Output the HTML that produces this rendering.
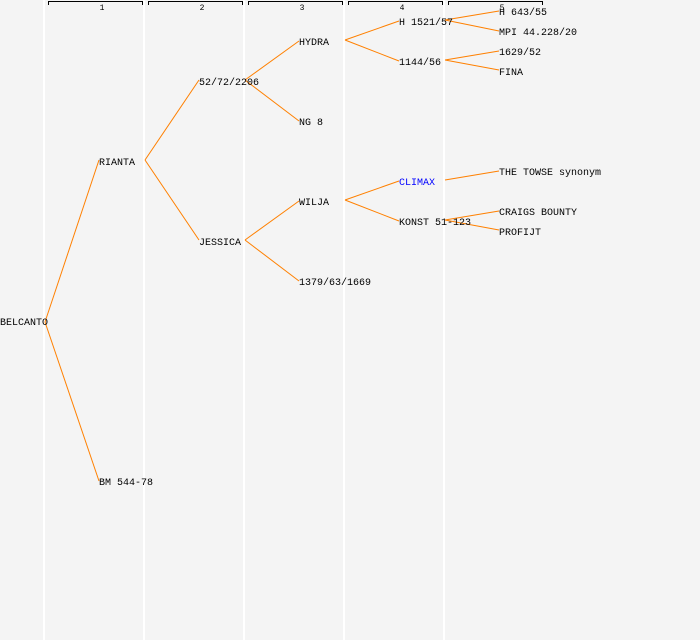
<!DOCTYPE html>
<html><head><style>html,body{margin:0;padding:0;background:#f4f4f4}svg{display:block}</style></head><body>
<svg width="700" height="640" xmlns="http://www.w3.org/2000/svg" font-family="Liberation Mono, monospace" font-size="10">
<rect width="700" height="640" fill="#f4f4f4"/>
<g stroke="#fff" stroke-width="2">
<line x1="44" y1="0" x2="44" y2="640"/><line x1="144" y1="0" x2="144" y2="640"/><line x1="244" y1="0" x2="244" y2="640"/><line x1="344" y1="0" x2="344" y2="640"/><line x1="444" y1="0" x2="444" y2="640"/>
</g>
<g stroke="#000" stroke-width="1" fill="none">
<path d="M48.5 5V1.5H142.5V5"/><path d="M148.5 5V1.5H242.5V5"/><path d="M248.5 5V1.5H342.5V5"/><path d="M348.5 5V1.5H442.5V5"/><path d="M448.5 5V1.5H542.5V5"/>
</g>
<g font-size="8" text-anchor="middle" fill="#000">
<text x="102" y="10">1</text><text x="202" y="10">2</text><text x="302" y="10">3</text><text x="402" y="10">4</text><text x="502" y="10">5</text>
</g>
<g stroke="#ff8000" stroke-width="1" fill="none">
<line x1="45" y1="322" x2="99" y2="160"/><line x1="45" y1="322" x2="99" y2="481"/>
<line x1="145" y1="160" x2="199" y2="80"/><line x1="145" y1="160" x2="199" y2="240"/>
<line x1="245" y1="80" x2="299" y2="41"/><line x1="245" y1="80" x2="299" y2="121"/>
<line x1="245" y1="240" x2="299" y2="201"/><line x1="245" y1="240" x2="299" y2="281"/>
<line x1="345" y1="40" x2="399" y2="21"/><line x1="345" y1="40" x2="399" y2="61"/>
<line x1="345" y1="200" x2="399" y2="181"/><line x1="345" y1="200" x2="399" y2="221"/>
<line x1="445" y1="20" x2="499" y2="11"/><line x1="445" y1="20" x2="499" y2="31"/>
<line x1="445" y1="60" x2="499" y2="51"/><line x1="445" y1="60" x2="499" y2="70"/>
<line x1="445" y1="180" x2="499" y2="171"/>
<line x1="445" y1="220" x2="499" y2="211"/><line x1="445" y1="220" x2="499" y2="230"/>
</g>
<g fill="#000">
<text x="0" y="325">BELCANTO</text>
<text x="99" y="165">RIANTA</text><text x="99" y="485">BM 544-78</text>
<text x="199" y="85">52/72/2206</text><text x="199" y="245">JESSICA</text>
<text x="299" y="45">HYDRA</text><text x="299" y="125">NG 8</text><text x="299" y="205">WILJA</text><text x="299" y="285">1379/63/1669</text>
<text x="399" y="25">H 1521/57</text><text x="399" y="65">1144/56</text><text x="399" y="185" fill="#0000ff">CLIMAX</text><text x="399" y="225">KONST 51-123</text>
<text x="499" y="15">H 643/55</text><text x="499" y="35">MPI 44.228/20</text><text x="499" y="55">1629/52</text><text x="499" y="75">FINA</text>
<text x="499" y="175">THE TOWSE synonym</text><text x="499" y="215">CRAIGS BOUNTY</text><text x="499" y="235">PROFIJT</text>
</g>
</svg>
</body></html>
